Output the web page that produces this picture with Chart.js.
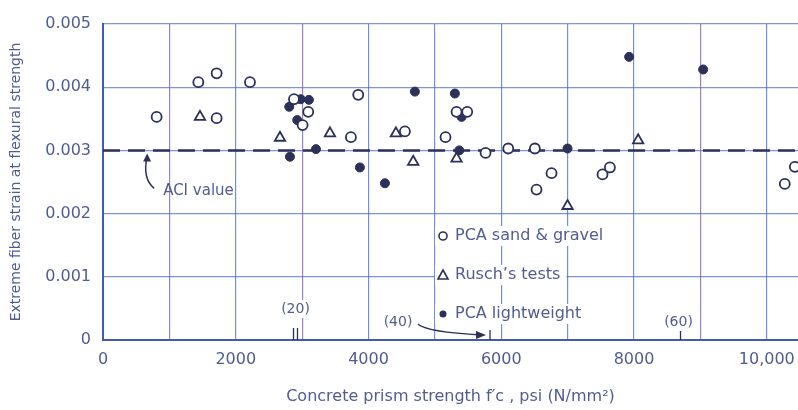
<!DOCTYPE html>
<html>
<head>
<meta charset="utf-8">
<script src="https://cdn.jsdelivr.net/npm/chart.js@4/dist/chart.umd.min.js"></script>
<style>
  body { margin: 0; background: #fff; }
  canvas { display: block; }
</style>
</head>
<body>
<canvas id="myChart" width="798" height="410"></canvas>
<script>
// datos: [resistencia psi, deformacion]
var sandGravel = [
  [808, 0.00353], [1436, 0.00408], [1712, 0.00422], [1712, 0.00351], [2214, 0.00408],
  [2877, 0.00381], [3092, 0.00361], [3007, 0.00340], [3735, 0.00321], [3845, 0.00388],
  [4548, 0.00330], [5160, 0.00321], [5326, 0.00361], [5487, 0.00361], [5763, 0.00296],
  [6105, 0.00303], [6506, 0.00303], [6757, 0.00264], [6531, 0.00238], [7525, 0.00262],
  [7636, 0.00273], [10271, 0.00247], [10422, 0.00274]
];
var ruschTests = [
  [1461, 0.00353], [2666, 0.00320], [3419, 0.00327], [4413, 0.00327], [4673, 0.00282],
  [5326, 0.00287], [6998, 0.00212], [8062, 0.00316]
];
var pcaLightweight = [
  [2806, 0.00369], [2977, 0.00381], [3102, 0.00380], [2926, 0.00348], [2816, 0.00290],
  [3208, 0.00302], [3870, 0.00273], [4247, 0.00248], [4699, 0.00393], [5301, 0.00390],
  [5402, 0.00353], [5367, 0.00300], [6998, 0.00303], [7926, 0.00448], [9041, 0.00428]
];
var aciValue = 0.003;
var xMax = 10470;
var xGridValues = [0, 1000, 2000, 3000, 4000, 5000, 6000, 7000, 8000, 9000, 10000];
var yTicks = ['0', '0.001', '0.002', '0.003', '0.004', '0.005'];
var xTickLabels = {0: '0', 2000: '2000', 4000: '4000', 6000: '6000', 8000: '8000', 10000: '10,000'};
// marcas secundarias en N/mm2 (valor psi equivalente)
var mpaMarks = [[2900, '(20)'], [5800, '(40)'], [8700, '(60)']];

var ink = '#2b3158';
var textColor = '#505c92';
var fontFam = '"DejaVu Sans", sans-serif';

function toPts(arr) {
  return arr.map(function (p) { return {x: p[0], y: p[1]}; });
}

// dibuja textos, leyenda y flechas sobre la grafica
var extras = {
  id: 'extras',
  afterDatasetsDraw: function (chart) {
    var ctx = chart.ctx;
    var xs = chart.scales.x, ys = chart.scales.y;
    ctx.save();
    ctx.fillStyle = textColor;
    ctx.strokeStyle = ink;
    ctx.textBaseline = 'middle';

    // ACI value
    var ax = xs.getPixelForValue(650), ay = ys.getPixelForValue(aciValue);
    ctx.lineWidth = 1.5;
    ctx.beginPath();
    ctx.moveTo(ax + 8, ay + 38);
    ctx.quadraticCurveTo(ax - 4, ay + 28, ax + 1, ay + 6);
    ctx.stroke();
    ctx.beginPath();
    ctx.moveTo(ax + 1, ay + 3);
    ctx.lineTo(ax - 3, ay + 11);
    ctx.lineTo(ax + 5, ay + 11);
    ctx.closePath();
    ctx.fillStyle = ink;
    ctx.fill();
    ctx.fillStyle = textColor;
    ctx.font = '15px ' + fontFam;
    ctx.fillText('ACI value', ax + 17, ay + 41);

    // leyenda dentro del area
    var lx = 443;
    var rows = [[236, 'circle', 'PCA sand & gravel'], [275, 'triangle', 'Rusch\u2019s tests'], [314, 'dot', 'PCA lightweight']];
    ctx.font = '16px ' + fontFam;
    rows.forEach(function (r) {
      var w = ctx.measureText(r[2]).width;
      ctx.fillStyle = '#fff';
      ctx.fillRect(lx - 8, r[0] - 10, w + 26, 20);
      ctx.strokeStyle = ink;
      ctx.fillStyle = ink;
      ctx.lineWidth = 1.6;
      ctx.beginPath();
      if (r[1] === 'circle') {
        ctx.arc(lx, r[0], 4, 0, Math.PI * 2);
        ctx.stroke();
      } else if (r[1] === 'triangle') {
        ctx.moveTo(lx, r[0] - 5);
        ctx.lineTo(lx + 5, r[0] + 4);
        ctx.lineTo(lx - 5, r[0] + 4);
        ctx.closePath();
        ctx.stroke();
      } else {
        ctx.arc(lx, r[0], 3.5, 0, Math.PI * 2);
        ctx.fill();
      }
      ctx.fillStyle = textColor;
      ctx.fillText(r[2], lx + 12, r[0]);
    });

    // marcas N/mm2
    var bottom = chart.chartArea.bottom;
    ctx.font = '14px ' + fontFam;
    ctx.textAlign = 'center';
    ctx.lineWidth = 1.3;
    ctx.strokeStyle = ink;
    var m20 = xs.getPixelForValue(mpaMarks[0][0]);
    ctx.fillStyle = '#fff';
    ctx.fillRect(m20 - 16, bottom - 40, 32, 18);
    ctx.fillStyle = textColor;
    ctx.fillText(mpaMarks[0][1], m20, bottom - 31);
    ctx.beginPath();
    ctx.moveTo(m20 - 2, bottom - 12); ctx.lineTo(m20 - 2, bottom);
    ctx.moveTo(m20 + 2, bottom - 12); ctx.lineTo(m20 + 2, bottom);
    ctx.stroke();

    var m40 = xs.getPixelForValue(mpaMarks[1][0]);
    ctx.fillText(mpaMarks[1][1], m40 - 90, bottom - 18);
    ctx.beginPath();
    ctx.moveTo(m40 - 70, bottom - 16);
    ctx.quadraticCurveTo(m40 - 62, bottom - 8, m40 - 6, bottom - 5);
    ctx.stroke();
    ctx.beginPath();
    ctx.moveTo(m40 - 2, bottom - 5);
    ctx.lineTo(m40 - 12, bottom - 9);
    ctx.lineTo(m40 - 12, bottom - 1);
    ctx.closePath();
    ctx.fillStyle = ink;
    ctx.fill();
    ctx.beginPath();
    ctx.moveTo(m40 + 2, bottom - 10); ctx.lineTo(m40 + 2, bottom);
    ctx.stroke();

    var m60 = xs.getPixelForValue(mpaMarks[2][0]);
    ctx.fillStyle = textColor;
    ctx.fillText(mpaMarks[2][1], m60 - 2, bottom - 18);
    ctx.beginPath();
    ctx.moveTo(m60, bottom - 9); ctx.lineTo(m60, bottom);
    ctx.stroke();
    ctx.restore();
  }
};

var ctx = document.getElementById('myChart').getContext('2d');
var chart = new Chart(ctx, {
  type: 'scatter',
  data: {
    datasets: [
      {
        label: 'ACI value',
        type: 'line',
        data: [{x: 0, y: aciValue}, {x: xMax, y: aciValue}],
        borderColor: ink,
        borderWidth: 2.5,
        borderDash: [17, 8],
        pointRadius: 0,
        order: 5
      },
      {
        label: 'PCA sand & gravel',
        data: toPts(sandGravel),
        pointStyle: 'circle',
        pointRadius: 5,
        borderWidth: 1.8,
        borderColor: ink,
        backgroundColor: '#fff'
      },
      {
        label: "Rusch's tests",
        data: toPts(ruschTests),
        pointStyle: 'triangle',
        pointRadius: 6,
        borderWidth: 1.8,
        borderColor: ink,
        backgroundColor: '#fff'
      },
      {
        label: 'PCA lightweight',
        data: toPts(pcaLightweight),
        pointStyle: 'circle',
        pointRadius: 4.5,
        borderWidth: 1,
        borderColor: ink,
        backgroundColor: ink
      }
    ]
  },
  options: {
    responsive: false,
    devicePixelRatio: 1,
    animation: false,
    layout: {autoPadding: false, padding: {top: 24, right: 0, left: 0, bottom: 0}},
    plugins: {legend: {display: false}, tooltip: {enabled: false}},
    scales: {
      x: {
        type: 'linear',
        min: 0,
        max: xMax,
        afterBuildTicks: function (scale) {
          scale.ticks = xGridValues.map(function (v) { return {value: v}; });
        },
        afterFit: function (scale) { scale.height = 70; scale.paddingRight = 0; },
        border: {color: '#3f5cb0', width: 2},
        grid: {
          drawTicks: false,
          lineWidth: 1.2,
          color: function (c) {
            var v = c.tick ? c.tick.value : 0;
            if (v === 1000 || v === 3000 || v === 9000) return 'rgba(130,100,175,0.8)';
            return 'rgba(70,105,200,0.75)';
          }
        },
        ticks: {
          autoSkip: false,
          maxRotation: 0,
          padding: 10,
          color: textColor,
          font: {family: fontFam, size: 16},
          callback: function (v) { return xTickLabels[v] !== undefined ? xTickLabels[v] : ''; }
        },
        title: {
          display: true,
          text: 'Concrete prism strength f\u2032c , psi (N/mm\u00b2)',
          color: textColor,
          font: {family: fontFam, size: 16},
          padding: {top: 0, bottom: 4}
        }
      },
      y: {
        min: 0,
        max: 0.005,
        afterFit: function (scale) { scale.width = 103; },
        border: {color: '#3f5cb0', width: 2},
        grid: {drawTicks: false, lineWidth: 1.2, color: 'rgba(70,105,200,0.7)'},
        ticks: {
          stepSize: 0.001,
          padding: 12,
          color: textColor,
          font: {family: fontFam, size: 16},
          callback: function (v) { return yTicks[Math.round(v * 1000)]; }
        },
        title: {
          display: true,
          text: 'Extreme fiber strain at flexural strength',
          color: textColor,
          font: {family: fontFam, size: 14},
          padding: {top: 8, bottom: 0}
        }
      }
    }
  },
  plugins: [extras]
});
</script>
</body>
</html>
